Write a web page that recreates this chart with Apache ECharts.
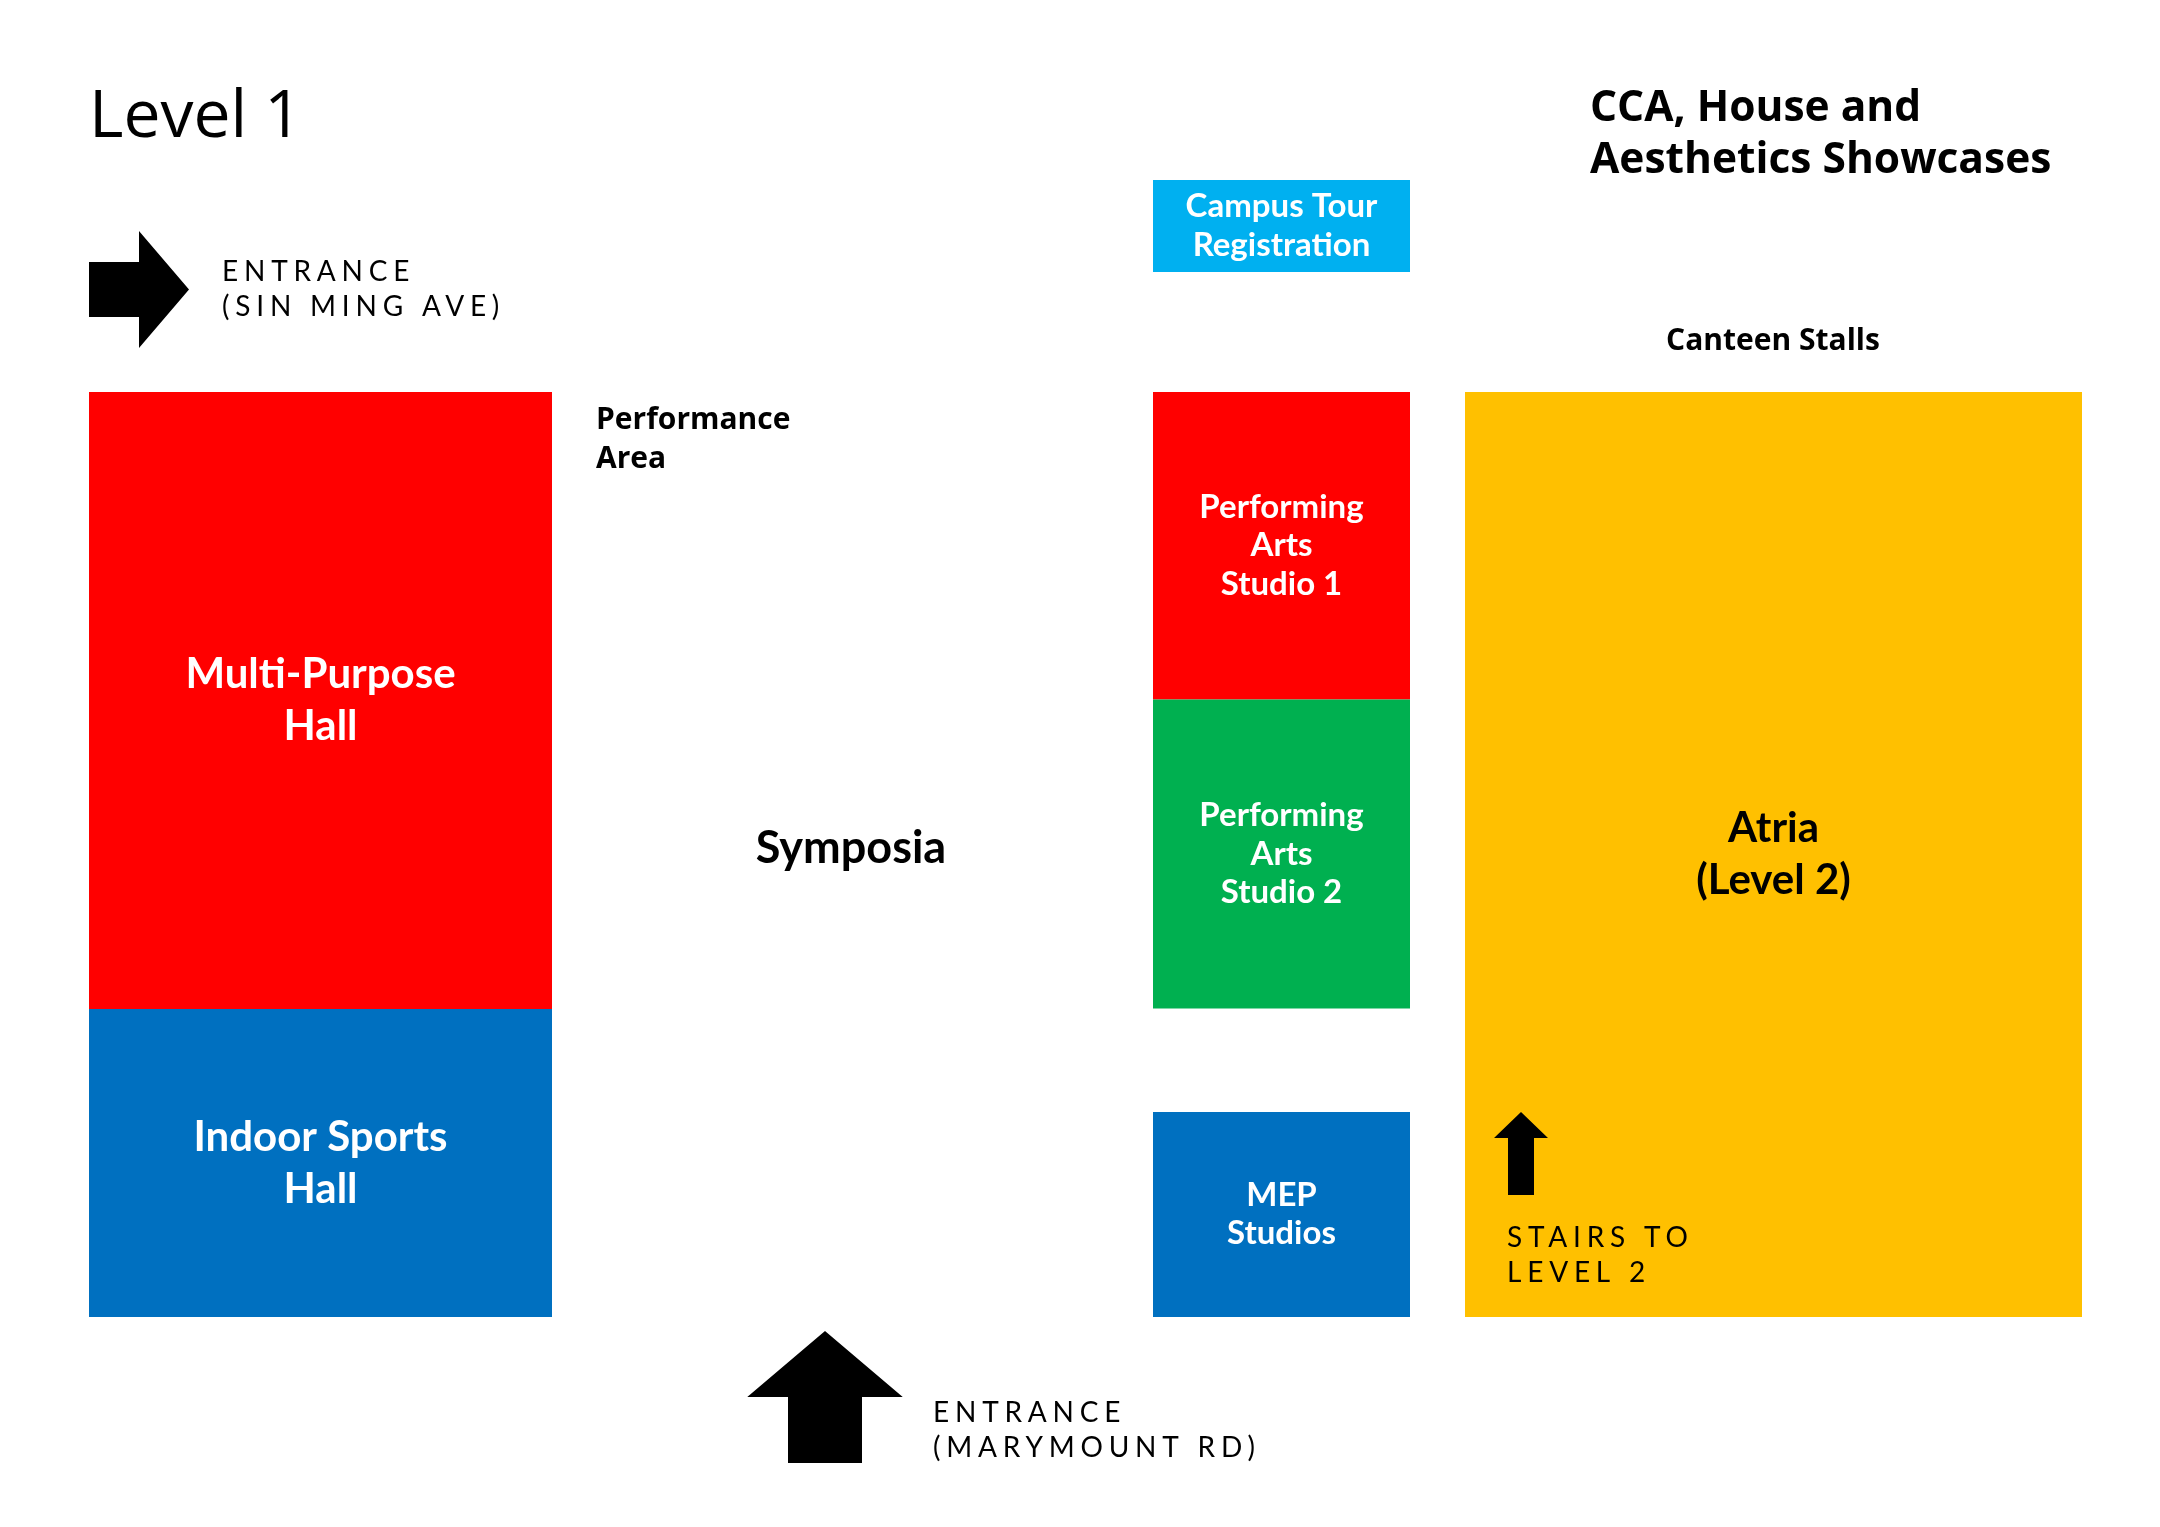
<!DOCTYPE html>
<html>
<head>
<meta charset="utf-8">
<script src="https://cdn.jsdelivr.net/npm/echarts@6/dist/echarts.min.js"></script>
<style>
html,body{margin:0;padding:0;background:#ffffff;}
#chart{width:2160px;height:1527px;}
</style>
</head>
<body>
<div id="chart"></div>
<script>
// ---- Plan extent (plan units) ----
const planWidth = 2160;
const planHeight = 1527;

// ---- Rooms (plan units) ----
const roomNames = [
  'Multi-Purpose\nHall',
  'Indoor Sports\nHall',
  'Campus Tour\nRegistration',
  'Performing\nArts\nStudio 1',
  'Performing\nArts\nStudio 2',
  'MEP\nStudios',
  'Atria\n(Level 2)'
];
const roomLeft   = [89,   89,   1153, 1153, 1153,  1153, 1465];
const roomRight  = [552,  552,  1410, 1410, 1410,  1410, 2082];
const roomTop    = [392,  1009, 180,  392,  699.5, 1112, 392];
const roomBottom = [1009, 1317, 272,  699.5, 1008.5, 1317, 1317];
const roomTier   = ['large', 'large', 'small', 'small', 'small', 'small', 'large'];

// ---- Arrows (plan units) ----
const arrowNames = ['Entrance (Sin Ming Ave)', 'Entrance (Marymount Rd)', 'Stairs to Level 2'];
const arrowTail  = [[89, 289.5], [825, 1463], [1521, 1195]];
const arrowTip   = [[189, 289.5], [825, 1331], [1521, 1112]];
const arrowShaft = [55, 74, 26];
const arrowHeadW = [117, 155.5, 54];
const arrowHeadL = [50, 66, 26];

// ---- Free annotations (plan units) ----
const noteTexts = [
  'Level 1',
  'CCA, House and\nAesthetics Showcases',
  'Canteen Stalls',
  'Performance\nArea',
  'Symposia',
  'ENTRANCE\n(SIN MING AVE)',
  'ENTRANCE\n(MARYMOUNT RD)',
  'STAIRS TO\nLEVEL 2'
];
const noteX = [89, 1590, 1773, 596, 851, 222, 933, 1507];
const noteY = [118, 135, 341, 440, 848, 289.5, 1430.5, 1255.5];
const noteKind = ['heading', 'title', 'label', 'labelSmall', 'labelLarge', 'spaced', 'spaced', 'spaced'];

// ---- Styles ----
const FONT = 'Lato, "Noto Sans", sans-serif';
const WIDE = '"Open Sans", Lato, sans-serif';
const SPACED = 'Lato, "DejaVu Sans", sans-serif';   // tracked capitals
const trackingPx = 5.8;
const roomFill = ['#FF0000', '#0070C0', '#00B0F0', '#FF0000', '#00B050', '#0070C0', '#FFC000'];
const roomInk  = ['#FFFFFF', '#FFFFFF', '#FFFFFF', '#FFFFFF', '#FFFFFF', '#FFFFFF', '#000000'];
const tierStyle = {
  large: {font: 'bold 42px ' + FONT, lineHeight: 52},
  small: {font: 'bold 33px ' + FONT, lineHeight: 38.5}
};
const noteStyle = {
  heading:    {font: 'normal 66px ' + WIDE, lineHeight: 72, align: 'left'},
  title:      {font: 'bold 42.5px ' + WIDE, lineHeight: 52, align: 'left'},
  label:      {font: 'bold 30px ' + WIDE, lineHeight: 38, align: 'center'},
  labelSmall: {font: 'bold 30px ' + WIDE, lineHeight: 39, align: 'left'},
  labelLarge: {font: 'bold 45px ' + FONT, lineHeight: 50, align: 'center'},
  spaced:     {font: 'normal 28px ' + SPACED, lineHeight: 35, align: 'left'}
};

// letter tracking for the spaced capitals (canvas letterSpacing at paint time)
(function () {
  const proto = CanvasRenderingContext2D.prototype;
  const origFill = proto.fillText;
  proto.fillText = function (t, x, y, w) {
    if (this.font && this.font.indexOf('DejaVu Sans') >= 0 && 'letterSpacing' in this) {
      const prev = this.letterSpacing;
      this.letterSpacing = trackingPx + 'px';
      const r = w === undefined ? origFill.call(this, t, x, y) : origFill.call(this, t, x, y, w);
      this.letterSpacing = prev;
      return r;
    }
    return origFill.apply(this, arguments);
  };
})();

const chart = echarts.init(document.getElementById('chart'), null, {renderer: 'canvas'});

chart.setOption({
  animation: false,
  backgroundColor: '#FFFFFF',
  grid: {left: 0, right: 0, top: 0, bottom: 0},
  xAxis: {type: 'value', min: 0, max: planWidth, show: false},
  yAxis: {type: 'value', min: 0, max: planHeight, inverse: true, show: false},
  series: [
    {
      type: 'custom',
      name: 'Rooms',
      silent: true,
      data: roomNames.map((n, i) => [roomLeft[i], roomTop[i], roomRight[i], roomBottom[i]]),
      renderItem: function (params, api) {
        const i = params.dataIndex;
        const p0 = api.coord([api.value(0), api.value(1)]);
        const p1 = api.coord([api.value(2), api.value(3)]);
        const ts = tierStyle[roomTier[i]];
        return {
          type: 'group',
          children: [
            {
              type: 'rect',
              shape: {x: p0[0], y: p0[1], width: p1[0] - p0[0], height: p1[1] - p0[1]},
              style: {fill: roomFill[i]}
            },
            {
              type: 'text',
              x: (p0[0] + p1[0]) / 2,
              y: (p0[1] + p1[1]) / 2,
              style: {
                text: roomNames[i],
                fill: roomInk[i],
                font: ts.font,
                lineHeight: ts.lineHeight,
                align: 'center',
                verticalAlign: 'middle'
              }
            }
          ]
        };
      }
    },
    {
      type: 'custom',
      name: 'Arrows',
      silent: true,
      z: 3,
      data: arrowNames.map((n, i) => [arrowTail[i][0], arrowTail[i][1], arrowTip[i][0], arrowTip[i][1]]),
      renderItem: function (params, api) {
        const i = params.dataIndex;
        const tx = api.value(0), ty = api.value(1), hx = api.value(2), hy = api.value(3);
        const len = Math.hypot(hx - tx, hy - ty);
        const dx = (hx - tx) / len, dy = (hy - ty) / len;
        const nx = -dy, ny = dx;
        const sw = arrowShaft[i] / 2, hw = arrowHeadW[i] / 2;
        const bx = hx - dx * arrowHeadL[i], by = hy - dy * arrowHeadL[i];
        const pts = [
          [tx + nx * sw, ty + ny * sw],
          [bx + nx * sw, by + ny * sw],
          [bx + nx * hw, by + ny * hw],
          [hx, hy],
          [bx - nx * hw, by - ny * hw],
          [bx - nx * sw, by - ny * sw],
          [tx - nx * sw, ty - ny * sw]
        ].map(p => api.coord(p));
        return {type: 'polygon', shape: {points: pts}, style: {fill: '#000000'}};
      }
    },
    {
      type: 'custom',
      name: 'Annotations',
      silent: true,
      z: 4,
      data: noteTexts.map((t, i) => [noteX[i], noteY[i]]),
      renderItem: function (params, api) {
        const i = params.dataIndex;
        const p = api.coord([api.value(0), api.value(1)]);
        const s = noteStyle[noteKind[i]];
        return {
          type: 'text',
          x: p[0],
          y: p[1],
          style: {
            text: noteTexts[i],
            fill: '#000000',
            font: s.font,
            lineHeight: s.lineHeight,
            align: s.align,
            verticalAlign: 'middle'
          }
        };
      }
    }
  ]
});
</script>
</body>
</html>
